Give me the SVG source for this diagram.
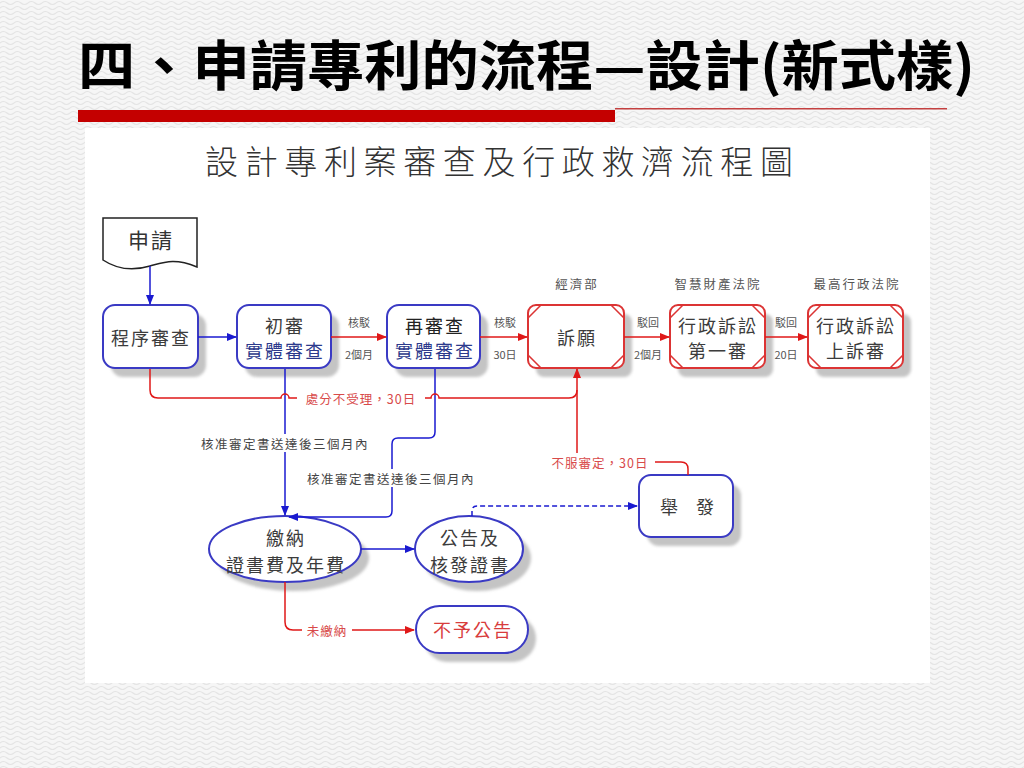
<svg xmlns="http://www.w3.org/2000/svg" width="1024" height="768" viewBox="0 0 1024 768">
<defs>
<pattern id="bg" width="14" height="10" patternUnits="userSpaceOnUse">
<rect width="14" height="10" fill="#f6f6f6"/>
<path d="M0,3 q3.5,-3 7,0 t7,0 M0,8 q3.5,-3 7,0 t7,0" fill="none" stroke="#e4e4e4" stroke-width="1.2"/>
</pattern>
<marker id="ab" markerWidth="10" markerHeight="10" refX="9" refY="5" orient="auto" markerUnits="userSpaceOnUse">
<path d="M0,1 L10,5 L0,9 Z" fill="#1a1ad0"/>
</marker>
<marker id="ar" markerWidth="10" markerHeight="10" refX="9" refY="5" orient="auto" markerUnits="userSpaceOnUse">
<path d="M0,1 L10,5 L0,9 Z" fill="#e01818"/>
</marker>
<filter id="blur" x="-10%" y="-10%" width="120%" height="120%"><feGaussianBlur stdDeviation="1.5"/></filter>
<style>
.t{font-family:"Noto Sans CJK TC","Noto Sans CJK SC",sans-serif;text-anchor:middle;dominant-baseline:central}
.nt{font-size:18px;fill:#3c3c3c;letter-spacing:2px}
.nv{font-size:18px;fill:#2c3a8c;letter-spacing:2px}
.lb{font-size:11px;fill:#555}
.org{font-size:12.5px;fill:#555;letter-spacing:2px}
.rl{font-size:12.5px;fill:#d84a4a;letter-spacing:1px}
.gl{font-size:12.5px;fill:#444;letter-spacing:1.5px}
.sh{fill:#c4c4c4;filter:url(#blur)}
.bx{fill:#fff;stroke:#3a3ac4;stroke-width:2}
.rx{fill:#fff;stroke:#dc3434;stroke-width:2}
.rc{fill:none;stroke:#dc3434;stroke-width:1.5}
.bl{fill:none;stroke:#1a1ad0;stroke-width:1.5}
.rd{fill:none;stroke:#e01818;stroke-width:1.5}
</style>
</defs>
<rect width="1024" height="768" fill="url(#bg)"/>
<g id="title">
<text x="78" y="86" font-family="'Noto Sans CJK TC','Noto Sans CJK SC',sans-serif" font-weight="700" font-size="54" fill="#000" textLength="897" lengthAdjust="spacingAndGlyphs">四、申請專利的流程—設計(新式樣)</text>
<rect x="78" y="110" width="537" height="12" fill="#c40000"/>
<rect x="615" y="108" width="332" height="1.5" fill="#c44040"/>
</g>
<rect x="85" y="128" width="845" height="555" fill="#fff"/>
<text x="205" y="160" font-family="'Noto Sans CJK TC','Noto Sans CJK SC',sans-serif" font-weight="300" font-size="33" fill="#333" dominant-baseline="central" textLength="588" lengthAdjust="spacing">設計專利案審查及行政救濟流程圖</text>

<g id="apply">
<path d="M103,218 H197 V267 C175,258 165,262 150,266 C130,272 115,268 103,260 Z" fill="#fff" stroke="#222" stroke-width="1.5"/>
<text class="t nt" x="151" y="239" style="font-size:21px;fill:#333">申請</text>
</g>
<g id="formal">
<rect class="sh" x="111" y="314" width="95" height="63" rx="12"/>
<rect class="bx" x="103" y="305" width="95" height="63" rx="12"/>
<text class="t nt" x="151" y="337">程序審查</text>
</g>
<g id="first">
<rect class="sh" x="245" y="314" width="94" height="63" rx="12"/>
<rect class="bx" x="237" y="305" width="94" height="63" rx="12"/>
<text class="t nt" x="285" y="325">初審</text>
<text class="t nv" x="285" y="350">實體審查</text>
</g>
<g id="second">
<rect class="sh" x="395" y="314" width="93" height="63" rx="12"/>
<rect class="bx" x="387" y="305" width="93" height="63" rx="12"/>
<text class="t nt" x="435" y="325" style="fill:#222">再審查</text>
<text class="t nv" x="435" y="350">實體審查</text>
</g>
<g id="appeal">
<text class="t org" x="577" y="283">經濟部</text>
<rect class="sh" x="536" y="314" width="96" height="63" rx="8"/>
<rect class="rx" x="528" y="305" width="96" height="63" rx="8"/>
<path class="rc" d="M528,318 L541,305 M611,305 L624,318 M528,355 L541,368 M611,368 L624,355"/>
<text class="t nt" x="577" y="337">訴願</text>
</g>
<g id="court1">
<text class="t org" x="718" y="283">智慧財產法院</text>
<rect class="sh" x="678" y="314" width="95" height="63" rx="8"/>
<rect class="rx" x="670" y="305" width="95" height="63" rx="8"/>
<path class="rc" d="M670,318 L683,305 M752,305 L765,318 M670,355 L683,368 M752,368 L765,355"/>
<text class="t nt" x="718" y="325">行政訴訟</text>
<text class="t nt" x="718" y="350">第一審</text>
</g>
<g id="court2">
<text class="t org" x="857" y="283">最高行政法院</text>
<rect class="sh" x="816" y="314" width="95" height="63" rx="8"/>
<rect class="rx" x="808" y="305" width="95" height="63" rx="8"/>
<path class="rc" d="M808,318 L821,305 M890,305 L903,318 M808,355 L821,368 M890,368 L903,355"/>
<text class="t nt" x="856" y="325">行政訴訟</text>
<text class="t nt" x="856" y="350">上訴審</text>
</g>
<g id="invalidation">
<rect class="sh" x="647" y="484" width="94" height="62" rx="12"/>
<rect class="bx" x="639" y="475" width="94" height="62" rx="12"/>
<text class="t nt" x="687" y="506" style="letter-spacing:0">舉　發</text>
</g>
<g id="pay">
<ellipse class="sh" cx="293" cy="558" rx="76" ry="33"/>
<ellipse class="bx" cx="285" cy="549" rx="76" ry="33"/>
<text class="t nt" x="286" y="537">繳納</text>
<text class="t nt" x="286" y="564">證書費及年費</text>
</g>
<g id="publish">
<ellipse class="sh" cx="477" cy="558" rx="54" ry="33"/>
<ellipse class="bx" cx="469" cy="549" rx="54" ry="33"/>
<text class="t nt" x="470" y="537">公告及</text>
<text class="t nt" x="470" y="564">核發證書</text>
</g>
<g id="nopublish">
<rect class="sh" x="424" y="615" width="112" height="47" rx="23.5"/>
<rect class="bx" x="416" y="606" width="112" height="47" rx="23.5"/>
<text class="t nt" x="473" y="629" style="fill:#d83c3c">不予公告</text>
</g>

<g id="connectors">
<path class="bl" d="M150,266 V304" marker-end="url(#ab)"/>
<path class="bl" d="M198,337 H236" marker-end="url(#ab)"/>
<path class="rd" d="M331,337 H386" marker-end="url(#ar)"/>
<path class="rd" d="M480,337 H527" marker-end="url(#ar)"/>
<path class="rd" d="M624,337 H669" marker-end="url(#ar)"/>
<path class="rd" d="M765,337 H807" marker-end="url(#ar)"/>
<path class="bl" d="M285,369 V515" marker-end="url(#ab)"/>
<path class="bl" d="M435,369 V432 Q435,438 429,438 H398 Q392,438 392,444 V511 Q392,517 386,517 H289" marker-end="url(#ab)"/>
<path class="rd" d="M150,369 V390 Q150,398 158,398 H281 a4,4 0 0 1 8,0 H431 a4,4 0 0 1 8,0 H569 Q577,398 577,390"/>
<path class="rd" d="M688,475 V469 Q688,462 681,462 H583 Q577,462 577,456 V369" marker-end="url(#ar)"/>
<path class="bl" d="M361,549 H414" marker-end="url(#ab)"/>
<path class="bl" d="M472,516 V511 Q472,506 477,506 H637" stroke-dasharray="5,3" marker-end="url(#ab)"/>
<path class="rd" d="M285,582 V622 Q285,630 293,630 H414" marker-end="url(#ar)"/>
<rect x="297" y="389" width="128" height="18" fill="#fff"/>
<text class="t rl" x="361" y="398">處分不受理，30日</text>
<rect x="544" y="453" width="111" height="18" fill="#fff"/>
<text class="t rl" x="600" y="462">不服審定，30日</text>
<rect x="302" y="621" width="50" height="18" fill="#fff"/>
<text class="t rl" x="327" y="630">未繳納</text>
<rect x="190" y="434" width="188" height="18" fill="#fff"/>
<text class="t gl" x="285" y="443">核准審定書送達後三個月內</text>
<rect x="295" y="469" width="190" height="18" fill="#fff"/>
<text class="t gl" x="391" y="478">核准審定書送達後三個月內</text>
<text class="t lb" x="359" y="322">核駁</text>
<text class="t lb" x="359" y="354">2個月</text>
<text class="t lb" x="505" y="322">核駁</text>
<text class="t lb" x="505" y="354">30日</text>
<text class="t lb" x="648" y="322">駁回</text>
<text class="t lb" x="648" y="354">2個月</text>
<text class="t lb" x="786" y="322">駁回</text>
<text class="t lb" x="786" y="354">20日</text>
</g>
</svg>
